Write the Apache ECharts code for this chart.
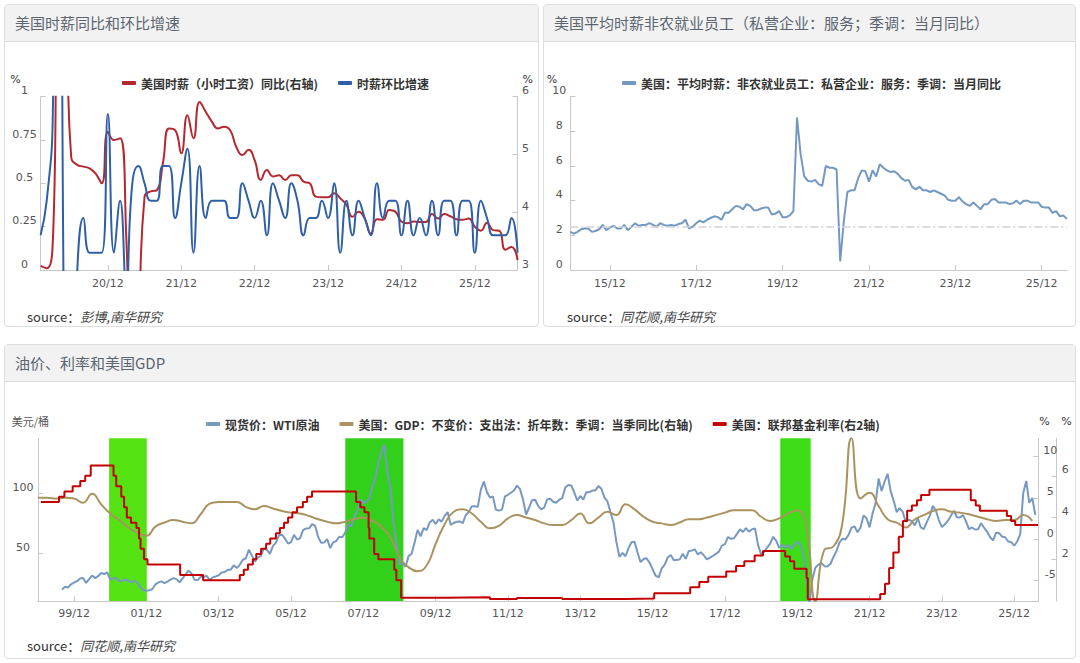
<!DOCTYPE html>
<html><head><meta charset="utf-8">
<script src="https://cdn.jsdelivr.net/npm/echarts@6/dist/echarts.min.js"></script>
<style>
html,body{margin:0;padding:0;background:#fff;width:1080px;height:663px;overflow:hidden;font-family:"Noto Sans CJK SC","Noto Sans",sans-serif;}
.panel{position:absolute;box-sizing:border-box;border:1px solid #dedede;border-radius:4px;background:#fff;overflow:hidden;}
.hdr{height:36px;line-height:36px;background:#f2f2f2;border-bottom:1px solid #dcdcdc;padding-left:10px;font-size:15px;color:#5b6571;}
.src{position:absolute;font-size:13px;color:#333;line-height:18px;white-space:nowrap;}
.src i{font-style:italic;color:#444;}
#chart{position:absolute;left:0;top:0;width:1080px;height:663px;}
</style></head><body>
<div class="panel" style="left:4px;top:4px;width:535px;height:323px;">
  <div class="hdr">美国时薪同比和环比增速</div>
  <div class="src" style="left:22px;top:303px;">source：<i>彭博,南华研究</i></div>
</div>
<div class="panel" style="left:543px;top:4px;width:533px;height:323px;">
  <div class="hdr">美国平均时薪非农就业员工（私营企业：服务；季调：当月同比）</div>
  <div class="src" style="left:23px;top:303px;">source：<i>同花顺,南华研究</i></div>
</div>
<div class="panel" style="left:4px;top:344px;width:1072px;height:315px;">
  <div class="hdr">油价、利率和美国GDP</div>
  <div class="src" style="left:22px;top:292px;">source：<i>同花顺,南华研究</i></div>
</div>
<div id="chart"></div>
<script>
// ---------- Panel 1: hourly wage (monthly, from 2020-01) ----------
const wageStart = '2020-01';
const wageYoY = [3.07,3.03,3.5,8.0,7.7,4.96,4.82,4.79,4.76,4.67,
  4.5,5.39,5.25,5.28,3.6,0.4,2.0,4.27,4.36,4.38,
  4.85,5.45,5.42,5.02,5.68,5.28,5.91,5.74,5.57,5.45,
  5.48,5.42,5.13,4.99,5.08,4.9,4.56,4.73,4.62,4.64,
  4.56,4.64,4.64,4.53,4.5,4.27,4.26,4.26,4.33,4.24,
  4.13,3.92,4.01,3.89,3.63,3.88,3.87,4.04,4.01,3.84,
  3.81,3.84,3.83,3.83,3.97,3.89,3.97,3.93,3.88,3.87,
  3.89,3.75,3.68,3.82,3.69,3.68,3.35,3.4,3.17];
const wageMoM = [0.2,0.4,0.9,4.7,-1.0,-1.2,0.0,0.3,0.1,0.1,
  0.1,0.9,0.1,0.4,-0.1,0.5,0.6,0.5,0.4,0.4,
  0.6,0.6,0.3,0.5,0.7,0.1,0.6,0.3,0.4,0.4,
  0.4,0.3,0.3,0.5,0.4,0.3,0.4,0.2,0.5,0.4,
  0.3,0.5,0.4,0.2,0.3,0.3,0.4,0.3,0.5,0.1,
  0.4,0.2,0.4,0.3,0.2,0.5,0.3,0.4,0.4,0.2,
  0.4,0.2,0.3,0.2,0.4,0.2,0.4,0.4,0.2,0.4,
  0.4,0.1,0.4,0.3,0.2,0.2,0.2,0.3,0.1];

// ---------- Panel 2: services hourly wage YoY (monthly, from 2015-01) ----------
const svcStart = '2015-01';
const svcWageYoY = [2.2,2.1,2.2,2.35,2.4,2.4,2.2,2.25,2.35,2.6,
  2.3,2.45,2.55,2.4,2.4,2.6,2.3,2.5,2.7,2.55,
  2.6,2.6,2.7,2.6,2.5,2.7,2.6,2.55,2.6,2.55,
  2.65,2.7,2.9,2.4,2.5,2.7,2.85,2.75,2.9,3.0,
  3.1,3.05,2.9,3.3,3.3,3.5,3.7,3.65,3.5,3.8,
  3.7,3.45,3.45,3.55,3.6,3.6,3.2,3.25,3.4,3.05,
  3.05,3.15,3.4,8.8,6.7,5.4,5.15,5.1,5.2,4.95,
  4.85,6.0,5.9,5.9,5.8,0.5,2.8,4.5,4.6,4.6,
  5.3,5.75,5.7,5.1,5.75,5.4,6.1,5.9,5.75,5.65,
  5.7,5.55,5.3,5.15,5.2,4.8,4.65,4.8,4.6,4.6,
  4.5,4.6,4.5,4.4,4.3,4.05,4.0,4.0,4.2,3.95,
  3.8,3.7,3.9,3.7,3.5,3.8,3.8,4.05,4.1,3.9,
  3.9,3.9,3.8,3.85,4.0,3.8,4.0,4.0,3.9,3.9,
  3.9,3.65,3.6,3.6,3.3,3.4,3.1,3.15,2.95];
const svcRefLevel = 2.5;

// ---------- Panel 3: oil, rates, GDP ----------
const wtiStart = '1999-08';
const wtiPrice = [20.3,22.5,22.0,24.6,26.1,
  27.2,29.4,29.9,25.7,28.8,31.8,29.7,31.3,33.9,33.1,34.4,28.4,
  29.6,29.6,27.3,27.5,28.6,27.6,26.4,27.4,26.2,22.2,19.6,19.3,
  19.7,20.7,24.5,26.2,27.0,25.5,26.9,28.4,29.7,28.9,26.3,29.4,
  32.9,35.9,33.6,28.3,28.1,30.7,30.8,31.6,28.3,30.3,31.1,32.1,
  34.3,34.7,36.7,36.7,40.3,38.0,40.7,44.9,45.9,53.1,48.5,43.3,
  46.8,48.0,54.3,53.0,49.8,56.4,59.0,65.0,65.6,62.4,58.3,59.4,
  65.5,61.6,62.7,69.4,70.8,70.9,74.4,73.0,63.8,58.9,59.1,62.0,
  54.5,59.3,60.4,63.9,63.5,67.5,74.1,72.4,79.9,85.8,94.8,91.7,
  93.0,95.4,105.5,112.6,125.4,134.0,140.0,116.7,104.1,76.6,57.3,41.1,
  41.7,39.1,47.9,49.7,59.0,69.6,64.2,71.1,69.4,75.7,78.0,74.5,
  78.3,76.4,81.2,84.3,73.7,75.3,76.3,76.6,75.2,81.9,84.3,89.2,
  89.2,88.6,102.9,109.5,100.9,96.3,97.3,86.3,85.5,86.3,97.2,98.6,
  100.3,102.2,106.2,103.3,94.7,82.3,87.9,94.1,94.5,89.5,86.5,87.9,
  94.8,95.3,92.9,92.0,94.5,95.8,104.6,106.6,106.3,100.5,93.9,97.6,
  94.6,100.8,100.8,102.1,102.2,105.8,103.6,96.5,93.2,84.4,75.8,59.3,
  47.2,50.6,47.8,54.5,59.3,59.8,50.9,42.9,45.5,46.2,42.4,37.2,
  31.7,30.3,37.5,40.8,46.7,48.8,44.7,44.7,45.2,49.8,45.7,52.0,
  52.5,53.5,49.3,51.1,48.5,45.2,46.6,48.0,49.8,51.6,56.6,57.9,
  63.7,62.2,62.7,66.3,70.0,67.9,71.0,68.1,70.2,70.8,57.0,49.5,
  51.4,55.0,58.2,63.9,60.8,54.7,57.4,54.8,57.0,54.0,57.0,59.9,
  57.5,50.5,29.2,8.0,28.5,38.3,40.7,42.3,39.6,39.4,41.4,47.0,
  52.0,59.0,62.3,61.7,65.2,71.4,72.5,67.7,71.6,81.5,79.2,71.7,
  83.2,91.6,112.0,101.8,109.6,116.0,101.6,93.7,84.3,87.6,84.4,76.4,
  78.1,76.8,73.3,79.4,71.6,70.3,76.0,81.4,89.4,85.6,77.7,71.9,
  74.2,77.2,81.3,85.4,80.0,79.8,81.8,76.7,70.2,71.6,69.9,70.1,
  75.1,71.5,68.2,63.5,61.0,67.3,67.0,64.0,63.5,60.0,59.5,56.5,
  60.0,66.0,100.0,110.0,92.0,96.0,82.0];
const gdpStart = '1998-12'; // quarter-end months
const gdpYoY = [5.0,
  5.0,4.9,5.0,4.9, 4.4,5.5,4.2,3.1, 2.3,1.4,0.8,0.4, 1.5,2.0,2.3,2.1,
  1.9,3.0,4.3,4.5, 4.5,4.5,3.9,3.6, 4.0,3.7,3.4,3.2, 3.1,2.8,2.4,2.1,
  1.9,2.1,2.4,2.6, 2.2,1.5,0.2,-2.2, -3.4,-3.9,-3.2,-0.6, 1.8,3.3,3.6,3.1,
  2.1,1.3,1.6,2.5, 2.9,2.6,2.3,1.9, 1.7,1.7,2.3,3.1, 1.9,2.6,3.3,2.9,
  4.2,3.6,2.7,2.1, 1.9,1.7,2.0,2.4, 2.4,2.6,2.9,3.2, 3.5,3.5,3.5,2.7,
  2.2,2.5,3.1,3.5, 1.5,-7.5,-1.3,-0.9, 2.0,12.2,4.9,5.6, 4.0,2.4,2.0,1.4,
  2.4,2.9,3.4,3.6, 3.3,3.2,3.0,2.7, 2.4,2.2,2.3,2.3, 2.9,2.2];
const fedDates = ['1999-01-01','1999-07-01','1999-08-25','1999-11-17','2000-02-03','2000-03-22','2000-05-17',
  '2001-01-04','2001-02-01','2001-03-21','2001-04-19','2001-05-16','2001-06-28','2001-08-22','2001-09-18',
  '2001-10-03','2001-11-07','2001-12-12','2002-11-07','2003-06-26','2004-07-01','2004-08-11','2004-09-22',
  '2004-11-11','2004-12-15','2005-02-03','2005-03-23','2005-05-04','2005-07-01','2005-08-10','2005-09-21',
  '2005-11-02','2005-12-14','2006-02-01','2006-03-29','2006-05-11','2006-06-30','2007-09-19','2007-11-01',
  '2007-12-12','2008-01-23','2008-01-31','2008-03-19','2008-05-01','2008-10-09','2008-10-30','2008-12-17',
  '2010-03-01','2011-06-01','2012-03-01','2013-06-01','2015-03-01','2015-12-17','2016-12-15','2017-03-16',
  '2017-06-15','2017-12-14','2018-03-22','2018-06-14','2018-09-27','2018-12-20','2019-08-01','2019-09-19',
  '2019-10-31','2020-03-04','2020-03-16','2022-03-17','2022-05-05','2022-06-16','2022-07-28','2022-09-22',
  '2022-11-03','2022-12-15','2023-02-02','2023-03-23','2023-05-04','2023-07-27','2024-09-19','2024-11-08',
  '2024-12-19','2025-09-18','2025-10-30','2025-12-11','2026-07-28'];
const fedRates = [4.75,5.0,5.25,5.5,5.75,6.0,6.5,
  6.0,5.5,5.0,4.5,4.0,3.75,3.5,3.0,
  2.5,2.0,1.75,1.25,1.0,1.25,1.5,1.75,
  2.0,2.25,2.5,2.75,3.0,3.25,3.5,3.75,
  4.0,4.25,4.5,4.75,5.0,5.25,4.75,4.5,
  4.25,3.5,3.0,2.25,2.0,1.5,1.0,0.16,
  0.18,0.09,0.14,0.09,0.12,0.37,0.66,0.91,
  1.16,1.42,1.68,1.91,2.18,2.40,2.13,1.90,
  1.55,1.10,0.08,0.33,0.83,1.58,2.33,3.08,
  3.83,4.33,4.58,4.83,5.08,5.33,4.83,4.58,
  4.33,4.08,3.83,3.64,3.64];
const shadeStarts = ['2000-11-20','2007-06-01','2019-06-12'];
const shadeEnds = ['2001-12-05','2009-01-10','2020-04-15'];
const p3TickLabels = ['1999-12','2001-12','2003-12','2005-12','2007-12','2009-12','2011-12','2013-12','2015-12','2017-12','2019-12','2021-12','2023-12','2025-12'];
const wtiTicks = [50, 100];
const gdpTicks = [-5, 0, 5, 10];
const fedTicks = [2, 4, 6];

// ---------- helpers ----------
function monthsFrom(start, n, step) {
  step = step || 1;
  const [y, m] = start.split('-').map(Number);
  const out = [];
  for (let i = 0; i < n; i++) {
    const t = y * 12 + (m - 1) + i * step;
    out.push(Math.floor(t / 12) + '-' + String(t % 12 + 1).padStart(2, '0'));
  }
  return out;
}
function mIndex(s) {
  const p = s.split('-').map(Number);
  return (p[0] - 1999) * 12 + (p[1] - 1) + (p[2] ? (p[2] - 1) / 30 : 0);
}
function fmtYM(v) {
  const y = 1999 + Math.floor(v / 12);
  const mo = ((Math.round(v) % 12) + 12) % 12 + 1;
  return String(y % 100).padStart(2, '0') + '/' + String(mo).padStart(2, '0');
}

const wageMonths = monthsFrom(wageStart, wageYoY.length);
const svcMonths = monthsFrom(svcStart, svcWageYoY.length);
const wtiData = monthsFrom(wtiStart, wtiPrice.length).map((d, i) => [mIndex(d), wtiPrice[i]]);
const gdpData = monthsFrom(gdpStart, gdpYoY.length, 3).map((d, i) => [mIndex(d), gdpYoY[i]]);
const fedData = fedDates.map((d, i) => [mIndex(d), fedRates[i]]);
const shadeColors = ['#55e212', '#33d01b', '#3cdd16'];
const shadeAreas = shadeStarts.map((s, i) => [{ xAxis: mIndex(s), itemStyle: { color: shadeColors[i] } }, { xAxis: mIndex(shadeEnds[i]) }]);

const AX = '#c8c8c8';
const labelFont = { color: '#555', fontFamily: 'DejaVu Sans', fontSize: 11 };
const nameFont = { color: '#333', fontFamily: 'DejaVu Sans', fontSize: 11, verticalAlign: 'middle' };
const legendText = { fontSize: 12, fontWeight: 'bold', color: '#333', fontFamily: 'Noto Sans CJK SC' };
function axisBase() {
  return {
    axisLine: { show: true, onZero: false, lineStyle: { color: AX } },
    axisTick: { show: true, inside: true, length: 5, lineStyle: { color: AX } },
    splitLine: { show: false }
  };
}

const N1 = '美国时薪（小时工资）同比(右轴)';
const N2 = '时薪环比增速';
const N3 = '美国：平均时薪：非农就业员工：私营企业：服务：季调：当月同比';
const N4 = '现货价：WTI原油';
const N5 = '美国：GDP：不变价：支出法：折年数：季调：当季同比(右轴)';
const N6 = '美国：联邦基金利率(右2轴)';

const decOnly = (idx, val) => val.endsWith('-12');
const decOdd = (idx, val) => val.endsWith('-12') && (parseInt(val.slice(0, 4)) % 2 === 1);
const ymLabel = v => v.slice(2, 4) + '/' + v.slice(5, 7);

const option = {
  animation: false,
  backgroundColor: 'transparent',
  textStyle: { fontFamily: 'Noto Sans CJK SC' },
  grid: [
    { left: 40.6, top: 96.7, width: 477, height: 173.3 },
    { left: 570.3, top: 96.7, width: 496.6, height: 173.3 },
    { left: 37.9, top: 438.3, width: 1000.4, height: 162.7 }
  ],
  legend: [
    { data: [N1, N2], left: 117, top: 72, icon: 'roundRect', itemWidth: 14, itemHeight: 4, itemGap: 20, textStyle: legendText },
    { data: [N3], left: 617, top: 72, icon: 'roundRect', itemWidth: 14, itemHeight: 4, textStyle: legendText },
    { data: [N4, N5, N6], left: 201, top: 413, icon: 'roundRect', itemWidth: 14, itemHeight: 4, itemGap: 20, textStyle: legendText }
  ],
  xAxis: [
    Object.assign(axisBase(), {
      type: 'category', gridIndex: 0, data: wageMonths, boundaryGap: false,
      axisTick: { show: true, inside: true, length: 5, interval: decOnly, lineStyle: { color: AX } },
      axisLabel: Object.assign({ interval: decOnly, formatter: ymLabel, margin: 8 }, labelFont)
    }),
    Object.assign(axisBase(), {
      type: 'category', gridIndex: 1, data: svcMonths, boundaryGap: false,
      axisTick: { show: true, inside: true, length: 5, interval: decOdd, lineStyle: { color: AX } },
      axisLabel: Object.assign({ interval: decOdd, formatter: ymLabel, margin: 8 }, labelFont)
    }),
    Object.assign(axisBase(), {
      type: 'value', gridIndex: 2, min: -1, max: 331,
      axisTick: { show: true, inside: true, length: 5, customValues: p3TickLabels.map(mIndex), lineStyle: { color: AX } },
      axisLabel: Object.assign({ customValues: p3TickLabels.map(mIndex), formatter: fmtYM, margin: 7 }, labelFont)
    })
  ],
  yAxis: [
    Object.assign(axisBase(), {
      type: 'value', gridIndex: 0, min: 0, max: 1, interval: 0.25, position: 'left',
      name: '%', nameLocation: 'end', nameGap: 17, nameTextStyle: Object.assign({ align: 'right', padding: [0, 20, 0, 0] }, nameFont),
      axisLabel: Object.assign({ align: 'center', verticalAlign: 'bottom', lineHeight: 12, margin: 16 }, labelFont)
    }),
    Object.assign(axisBase(), {
      type: 'value', gridIndex: 0, min: 3, max: 6, interval: 1, position: 'right',
      name: '%', nameLocation: 'end', nameGap: 17, nameTextStyle: Object.assign({ align: 'left', padding: [0, 0, 0, 5] }, nameFont),
      axisLabel: Object.assign({ align: 'center', verticalAlign: 'bottom', lineHeight: 12, margin: 8 }, labelFont)
    }),
    Object.assign(axisBase(), {
      type: 'value', gridIndex: 1, min: 0, max: 10, interval: 2, position: 'left',
      name: '%', nameLocation: 'end', nameGap: 17, nameTextStyle: Object.assign({ align: 'right', padding: [0, 13, 0, 0] }, nameFont),
      axisLabel: Object.assign({ align: 'center', verticalAlign: 'bottom', lineHeight: 12, margin: 11 }, labelFont)
    }),
    Object.assign(axisBase(), {
      type: 'value', gridIndex: 2, min: 10.8, max: 145.3, position: 'left',
      name: '美元/桶', nameLocation: 'end', nameGap: 17,
      nameTextStyle: { color: '#555', fontSize: 11, fontFamily: 'Noto Sans CJK SC', align: 'center', verticalAlign: 'middle', padding: [0, 15, 0, 0] },
      axisTick: { show: true, inside: true, length: 5, customValues: wtiTicks, lineStyle: { color: AX } },
      axisLabel: Object.assign({ customValues: wtiTicks, align: 'center', verticalAlign: 'bottom', lineHeight: 12, margin: 15 }, labelFont)
    }),
    Object.assign(axisBase(), {
      type: 'value', gridIndex: 2, min: -7.5, max: 12.2, position: 'right',
      name: '%', nameLocation: 'end', nameGap: 17, nameTextStyle: Object.assign({ align: 'left', padding: [0, 0, 0, 1] }, nameFont),
      axisTick: { show: true, inside: true, length: 5, customValues: gdpTicks, lineStyle: { color: AX } },
      axisLabel: Object.assign({ customValues: gdpTicks, align: 'center', verticalAlign: 'bottom', lineHeight: 12, margin: 12 }, labelFont)
    }),
    Object.assign(axisBase(), {
      type: 'value', gridIndex: 2, min: 0, max: 7.8, position: 'right', offset: 18,
      name: '%', nameLocation: 'end', nameGap: 17, nameTextStyle: Object.assign({ align: 'left', padding: [0, 0, 0, 5] }, nameFont),
      axisTick: { show: true, inside: true, length: 5, customValues: fedTicks, lineStyle: { color: AX } },
      axisLabel: Object.assign({ customValues: fedTicks, align: 'center', verticalAlign: 'bottom', lineHeight: 12, margin: 9 }, labelFont)
    })
  ],
  series: [
    { name: N1, type: 'line', xAxisIndex: 0, yAxisIndex: 1, data: wageYoY, smooth: true, showSymbol: false,
      lineStyle: { width: 2, color: '#b5282e' }, itemStyle: { color: '#b5282e' } },
    { name: N2, type: 'line', xAxisIndex: 0, yAxisIndex: 0, data: wageMoM, smooth: true, showSymbol: false,
      lineStyle: { width: 2, color: '#2f5fa6' }, itemStyle: { color: '#2f5fa6' } },
    { name: N3, type: 'line', xAxisIndex: 1, yAxisIndex: 2, data: svcWageYoY, showSymbol: false,
      lineStyle: { width: 2, color: '#7399c2' }, itemStyle: { color: '#7399c2' },
      markLine: { silent: true, symbol: ['none', 'none'], label: { show: false },
        lineStyle: { color: '#d4d4d4', type: [8, 3, 2, 3], width: 1.5 }, data: [{ yAxis: svcRefLevel }] } },
    { name: 'shade', type: 'line', xAxisIndex: 2, yAxisIndex: 3, data: [], z: 1,
      markArea: { silent: true, data: shadeAreas } },
    { name: N4, type: 'line', xAxisIndex: 2, yAxisIndex: 3, data: wtiData, showSymbol: false, z: 3,
      lineStyle: { width: 2, color: '#7799c1' }, itemStyle: { color: '#7799c1' } },
    { name: N5, type: 'line', xAxisIndex: 2, yAxisIndex: 4, data: gdpData, smooth: true, showSymbol: false, z: 4,
      lineStyle: { width: 2, color: '#ab9360' }, itemStyle: { color: '#ab9360' } },
    { name: N6, type: 'line', xAxisIndex: 2, yAxisIndex: 5, data: fedData, step: 'end', showSymbol: false, z: 5,
      lineStyle: { width: 2, color: '#c40000' }, itemStyle: { color: '#c40000' } }
  ]
};
const chart = echarts.init(document.getElementById('chart'), null, { renderer: 'svg', width: 1080, height: 663 });
chart.setOption(option);
</script>
</body></html>
